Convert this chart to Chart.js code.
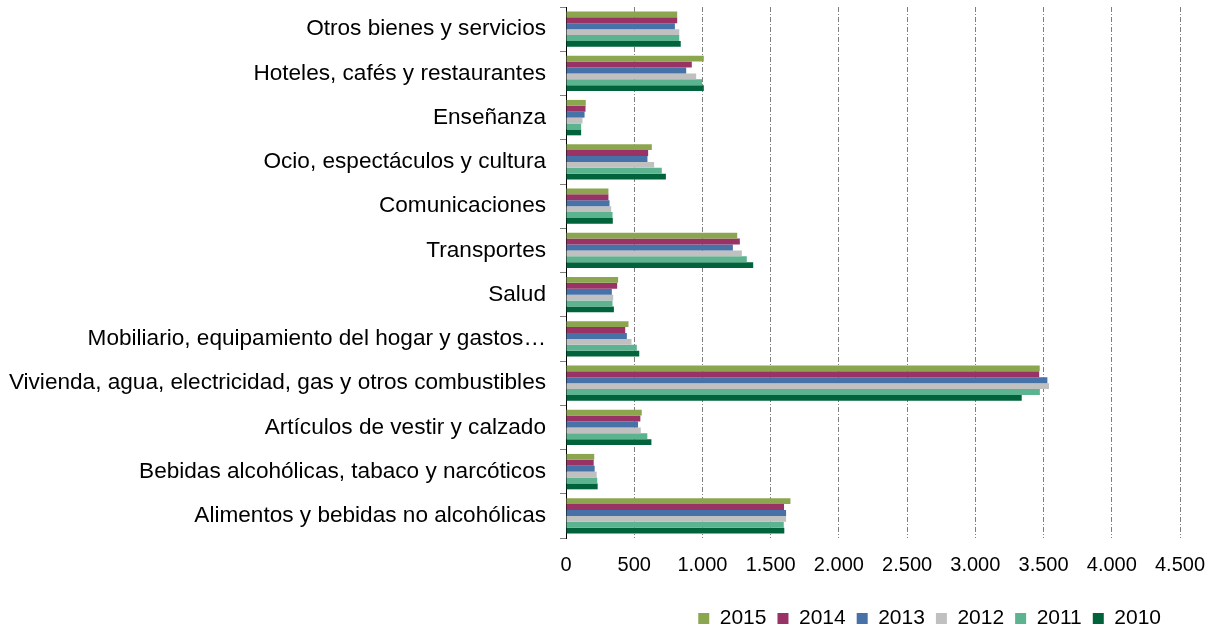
<!DOCTYPE html>
<html>
<head>
<meta charset="utf-8">
<script src="https://cdn.jsdelivr.net/npm/chart.js@4"></script>
<style>
  html, body { margin: 0; padding: 0; background: #fff; }
  #wrap { width: 1208px; height: 628px; }
</style>
</head>
<body>
<div id="wrap"><canvas id="gastoChart" width="1208" height="628"></canvas></div>
<script>
const categories = [
  "Otros bienes y servicios",
  "Hoteles, cafés y restaurantes",
  "Enseñanza",
  "Ocio, espectáculos y cultura",
  "Comunicaciones",
  "Transportes",
  "Salud",
  "Mobiliario, equipamiento del hogar y gastos…",
  "Vivienda, agua, electricidad, gas y otros combustibles",
  "Artículos de vestir y calzado",
  "Bebidas alcohólicas, tabaco y narcóticos",
  "Alimentos y bebidas no alcohólicas"
];

const years = ["2015", "2014", "2013", "2012", "2011", "2010"];

const values2015 = [815, 1010, 145, 629, 311, 1255, 382, 458, 3472, 555, 207, 1645];
const values2014 = [815, 922, 143, 602, 311, 1274, 375, 434, 3468, 545, 203, 1598];
const values2013 = [798, 881, 136, 597, 319, 1223, 336, 446, 3528, 528, 210, 1613];
const values2012 = [830, 954, 121, 646, 331, 1289, 346, 480, 3540, 548, 225, 1613];
const values2011 = [830, 998, 111, 702, 341, 1325, 341, 519, 3473, 596, 229, 1596];
const values2010 = [841, 1010, 111, 732, 343, 1372, 351, 537, 3340, 626, 232, 1600];

const xTicks = [0, 500, 1000, 1500, 2000, 2500, 3000, 3500, 4000, 4500];

const seriesValues = [values2015, values2014, values2013, values2012, values2011, values2010];
const colors = ["#8CA650", "#993366", "#4672A8", "#C0C0C0", "#5CB38F", "#00633B"];

const font = "Arial, 'Liberation Sans', sans-serif";
const ctx = document.getElementById("gastoChart").getContext("2d");

// nudge the legend a bit to the left, like the original
const legendShift = {
  id: "legendShift",
  afterLayout(chart) {
    if (chart.legend) {
      chart.legend.left -= 8;
      chart.legend.right -= 8;
    }
  }
};

new Chart(ctx, {
  type: "bar",
  data: {
    labels: categories,
    datasets: years.map((y, i) => ({
      label: y,
      data: seriesValues[i],
      backgroundColor: colors[i],
      borderWidth: 0,
      barPercentage: 1.0,
      categoryPercentage: 0.8
    }))
  },
  options: {
    indexAxis: "y",
    responsive: false,
    animation: false,
    layout: { padding: { top: 7, right: 28, left: 0, bottom: -11 } },
    plugins: {
      tooltip: { enabled: false },
      legend: {
        position: "bottom",
        align: "end",
        labels: {
          color: "#000",
          font: { family: font, size: 21 },
          boxWidth: 11,
          boxHeight: 11,
          padding: 11
        }
      }
    },
    scales: {
      x: {
        min: 0,
        max: 4500,
        afterBuildTicks: (scale) => {
          scale.ticks = xTicks.map((v) => ({ value: v }));
        },
        ticks: {
          color: "#000",
          font: { family: font, size: 20 },
          padding: 15,
          maxRotation: 0,
          callback: (v) => Number(v).toLocaleString("de-DE")
        },
        border: { display: false, dash: [5, 2, 1, 2] },
        grid: {
          color: (c) => (c.tick && c.tick.value === 0 ? "rgba(0,0,0,0)" : "#7f7f7f"),
          lineWidth: 1,
          drawTicks: false
        },
        afterFit: (scale) => {
          scale.height = 59;
          scale.paddingLeft = 0;
          scale.paddingRight = 0;
        }
      },
      y: {
        border: { display: true, color: "#000", width: 1 },
        grid: {
          offset: true,
          drawOnChartArea: false,
          drawTicks: true,
          tickLength: 6,
          color: "#808080"
        },
        ticks: {
          color: "#000",
          font: { family: font, size: 22.6 },
          padding: 14,
          autoSkip: false
        },
        afterFit: (scale) => {
          scale.width = 566;
          scale.paddingTop = 0;
          scale.paddingBottom = 0;
        }
      }
    }
  },
  plugins: [legendShift]
});
</script>
</body>
</html>
